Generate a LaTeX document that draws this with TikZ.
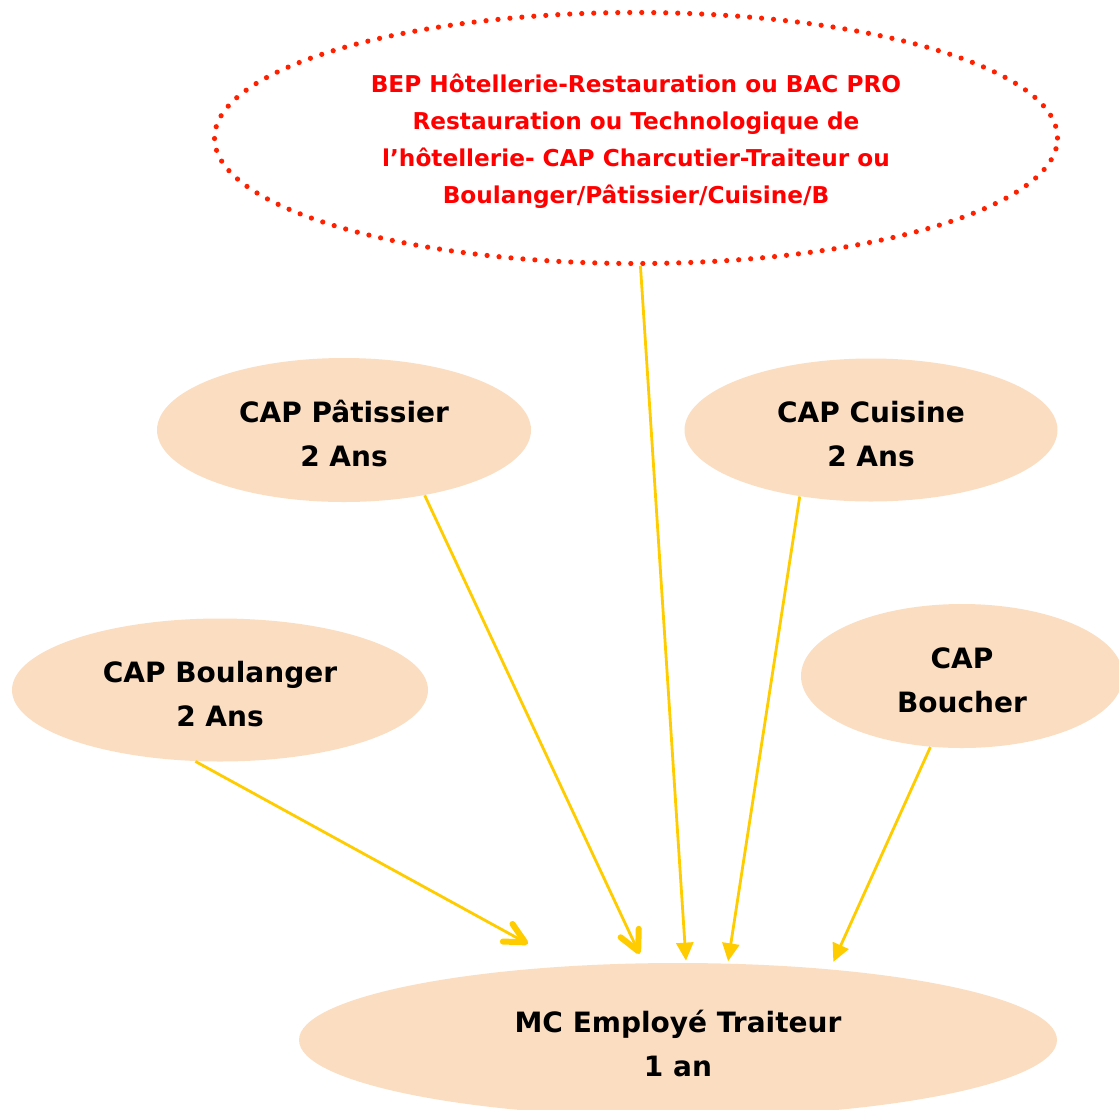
\documentclass[tikz,border=0pt]{standalone}
\usepackage{fontspec}
\setmainfont{DejaVu Sans}
\usetikzlibrary{shapes.geometric,arrows.meta}

\definecolor{peche}{RGB}{251,221,194}
\definecolor{jaune}{RGB}{255,204,0}
\definecolor{rouge}{RGB}{255,32,0}

\newcommand{\haut}[1]{\rule{0pt}{#1}}

\begin{document}
\begin{tikzpicture}[x=0.5pt, y=-0.5pt,
    formation/.style={ellipse, fill=peche, inner sep=0pt, align=center,
      font=\fontsize{14}{22}\selectfont\bfseries},
    fleche/.style={draw=jaune, line width=1.4pt,
      -{Triangle[length=9pt,width=8.5pt]}},
    fleche ouverte/.style={draw=jaune, line width=1.4pt,
      -{Straight Barb[length=10pt,width=10pt,line width=3pt,round]}}]

  \useasboundingbox (0,0) rectangle (1119,1109);

  \node[ellipse, draw=rouge, line width=2.6pt, line cap=round,
    dash pattern=on 0pt off 6pt, minimum width=421.5pt, minimum height=125.5pt,
    inner sep=0pt, align=center, text=red,
    font=\fontsize{11.6}{18.5}\selectfont\bfseries] (bep) at (636, 138)
    {\haut{12pt}BEP Hôtellerie-Restauration ou BAC PRO\\ Restauration ou Technologique de\\
     l’hôtellerie- CAP Charcutier-Traiteur ou\\ Boulanger/Pâtissier/Cuisine/B};

  \node[formation, minimum width=187pt, minimum height=72pt] (patissier) at (344, 430) {\haut{15pt}CAP Pâtissier\\ 2 Ans};
  \node[formation, minimum width=186.5pt, minimum height=71.5pt] (cuisine) at (871, 430) {\haut{15pt}CAP Cuisine\\ 2 Ans};
  \node[formation, minimum width=208pt, minimum height=71.5pt] (boulanger) at (220, 690) {\haut{15pt}CAP Boulanger\\ 2 Ans};
  \node[formation, minimum width=161pt, minimum height=72pt] (boucher) at (962, 676) {\haut{15pt}CAP\\ Boucher};
  \node[formation, minimum width=379pt, minimum height=77pt] (mc) at (678, 1040) {\haut{15pt}MC Employé Traiteur\\ 1 an};

  \draw[fleche ouverte, shorten >=23pt] (boulanger.251) -- (mc.146);
  \draw[fleche ouverte, shorten >=5pt] (patissier.321) -- (mc.114);

  \foreach \depart/\arrivee/\ecart in {bep.272/mc.84/1pt, cuisine.223/mc.57/1pt, boucher.246/mc.25/4pt}
  {
    \draw[fleche, shorten >=\ecart] (\depart) -- (\arrivee);
  }
\end{tikzpicture}
\end{document}
